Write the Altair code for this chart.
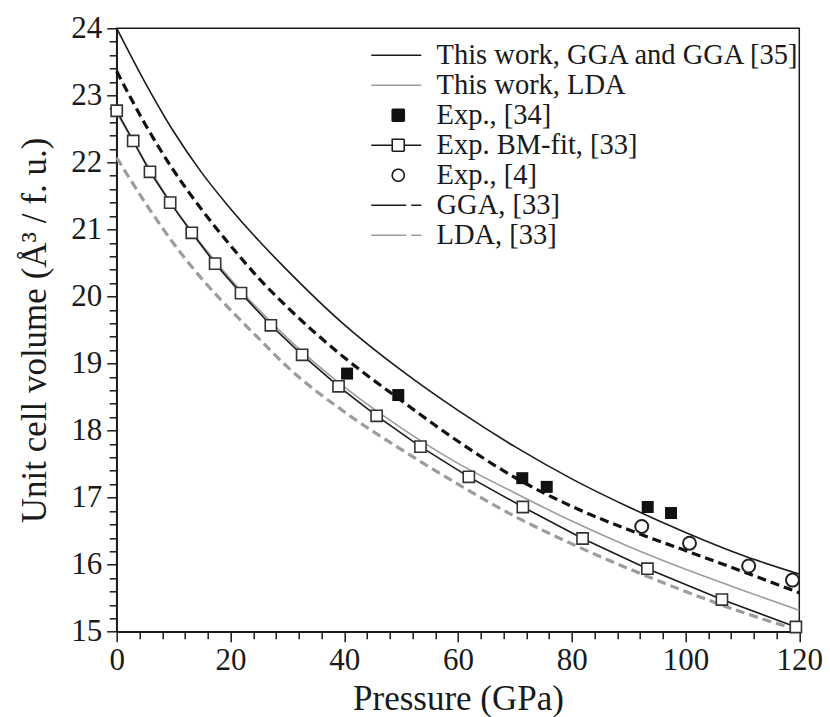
import altair as alt
import pandas as pd
import numpy as np

# ---------------- data ----------------
P_grid = [0, 5, 10, 15, 20, 25, 30, 40, 50, 60, 70, 80, 90, 100, 110, 120]

# This work, GGA (solid black)
V_gga_this = [24.00, 23.19, 22.46, 21.84, 21.31, 20.83, 20.39, 19.58, 18.90, 18.30,
              17.76, 17.28, 16.86, 16.48, 16.14, 15.86]
# This work, LDA (solid gray)
V_lda_this = [22.74, 22.01, 21.34, 20.77, 20.26, 19.80, 19.38, 18.65, 18.04, 17.51,
              17.07, 16.65, 16.27, 15.93, 15.62, 15.32]
# GGA [33] (black dashed)
V_gga_33 = [23.36, 22.57, 21.88, 21.29, 20.76, 20.27, 19.84, 19.09, 18.45, 17.84,
            17.30, 16.87, 16.52, 16.21, 15.90, 15.58]
# LDA [33] (gray dashed)
V_lda_33 = [22.07, 21.40, 20.79, 20.26, 19.80, 19.37, 18.95, 18.28, 17.72, 17.20,
            16.72, 16.31, 15.94, 15.60, 15.29, 15.02]

# Exp. BM-fit [33] (open squares joined by a line)
P_bm = [0, 2.9, 5.85, 9.4, 13.2, 17.3, 21.85, 27.1, 32.6, 39.0, 45.7, 53.4, 61.9,
        71.4, 81.9, 93.3, 106.4, 119.4]
V_bm = [22.77, 22.32, 21.86, 21.40, 20.95, 20.49, 20.05, 19.57, 19.13, 18.66, 18.22,
        17.76, 17.31, 16.86, 16.39, 15.94, 15.48, 15.07]

# Exp. [34] (filled squares)
P_exp34 = [40.5, 49.5, 71.3, 75.6, 93.35, 97.45]
V_exp34 = [18.85, 18.53, 17.29, 17.16, 16.86, 16.77]

# Exp. [4] (open circles)
P_exp4 = [92.3, 100.7, 111.1, 118.8]
V_exp4 = [16.57, 16.32, 15.98, 15.77]

legend_names = ["This work, GGA and GGA [35]", "This work, LDA", "Exp., [34]",
                "Exp. BM-fit, [33]", "Exp., [4]", "GGA, [33]", "LDA, [33]"]

x_ticks = list(range(0, 121, 4))
y_ticks = [round(v, 1) for v in np.arange(15.0, 24.01, 0.2)]

# ---------------- styling ----------------
SERIF = "Liberation Serif"
INK = "#1a1a1a"
GRAY = "#9c9c9c"

xscale = alt.Scale(domain=[0, 120], nice=False, zero=False)
yscale = alt.Scale(domain=[15, 24], nice=False, zero=False)

xaxis = alt.Axis(
    title="Pressure (GPa)", values=x_ticks, grid=False,
    labelExpr="datum.value % 20 == 0 ? datum.label : ''",
    tickSize={"condition": {"test": "datum.value % 20 == 0", "value": 10}, "value": 7},
    labelFlush=False, labelOverlap=False, labelPadding=4,
    labelFont=SERIF, labelFontSize=31, labelColor=INK,
    titleFont=SERIF, titleFontSize=35, titleFontWeight="normal", titleColor=INK,
    titlePadding=6,
    domainColor=INK, domainWidth=1.5, tickColor=INK, tickWidth=1.5,
)
yaxis = alt.Axis(
    title="Unit cell volume (Å³ / f. u.)", values=y_ticks, grid=False,
    labelExpr="abs(datum.value - round(datum.value)) < 0.01 ? format(datum.value, 'd') : ''",
    tickSize={"condition": {"test": "abs(datum.value - round(datum.value)) < 0.01", "value": 10}, "value": 7.5},
    labelFlush=False, labelOverlap=False, labelPadding=5,
    labelFont=SERIF, labelFontSize=31, labelColor=INK,
    titleFont=SERIF, titleFontSize=35, titleFontWeight="normal", titleColor=INK,
    titlePadding=18,
    domainColor=INK, domainWidth=1.5, tickColor=INK, tickWidth=1.5,
)


def curve(P, V, name):
    return pd.DataFrame({"P": P, "V": V, "series": name})


def enc(ch):
    return ch.encode(
        x=alt.X("P:Q", scale=xscale, axis=xaxis),
        y=alt.Y("V:Q", scale=yscale, axis=yaxis),
    )


def line_layer(df, **kw):
    return enc(alt.Chart(df).mark_line(interpolate="monotone", **kw))


l_lda33 = line_layer(curve(P_grid, V_lda_33, "LDA, [33]"), color=GRAY, strokeWidth=3.2, strokeDash=[9, 5])
l_gga33 = line_layer(curve(P_grid, V_gga_33, "GGA, [33]"), color="#111111", strokeWidth=3.2, strokeDash=[9, 5])
l_lda = line_layer(curve(P_grid, V_lda_this, "This work, LDA"), color=GRAY, strokeWidth=1.6)
l_gga = line_layer(curve(P_grid, V_gga_this, "This work, GGA and GGA [35]"), color=INK, strokeWidth=1.6)

bm_df = curve(P_bm, V_bm, "Exp. BM-fit, [33]")
l_bm = enc(alt.Chart(bm_df).mark_line(color=INK, strokeWidth=1.6))
p_bm = enc(alt.Chart(bm_df).mark_point(shape="square", fill="white", stroke="#333333",
                                       strokeWidth=1.6, size=125, opacity=1))
p_34 = enc(alt.Chart(curve(P_exp34, V_exp34, "Exp., [34]")).mark_point(
    shape="square", filled=True, color="#111111", size=144, opacity=1))
p_4 = enc(alt.Chart(curve(P_exp4, V_exp4, "Exp., [4]")).mark_point(
    shape="circle", fill="white", stroke="#222222", strokeWidth=2, size=169, opacity=1))

# ---------------- legend (library legend, built from scales) ----------------
# symbol size 576 -> 12 px per path unit; symbol centre sits 13 px right of legend edge
LINE = "M-3.1667,0H1"
BMSYM = "M-3.1667,0H-1.4167M-0.4167,0H1M-1.4167,-0.5H-0.4167V0.5H-1.4167Z"
FSQ = "M-1.4167,-0.5H-0.4167V0.5H-1.4167Z"
CIRC = "M-1.4167,0A0.5,0.5 0 1,0 -0.4167,0A0.5,0.5 0 1,0 -1.4167,0Z"

leg = alt.Legend(
    title=None, orient="none", legendX=278.3, legendY=12.7, padding=0,
    labelFont=SERIF, labelFontSize=28.5, labelColor=INK, labelLimit=500,
    symbolSize=576, symbolStrokeWidth=1.6, labelOffset=13, rowPadding=1,
)
legend_df = pd.DataFrame({"series": legend_names, "P": 0.0, "V": 15.0})
legend_layer = alt.Chart(legend_df).mark_point(opacity=1).encode(
    shape=alt.Shape("series:N", legend=leg, scale=alt.Scale(
        domain=legend_names, range=[LINE, LINE, FSQ, BMSYM, CIRC, LINE, LINE])),
    stroke=alt.Stroke("series:N", legend=leg, scale=alt.Scale(
        domain=legend_names, range=[INK, GRAY, "#111111", INK, INK, INK, GRAY])),
    fill=alt.Fill("series:N", legend=leg, scale=alt.Scale(
        domain=legend_names,
        range=["transparent", "transparent", "#111111", "white", "white", "transparent", "transparent"])),
    strokeDash=alt.StrokeDash("series:N", legend=leg, scale=alt.Scale(
        domain=legend_names,
        range=[[1, 0], [1, 0], [1, 0], [1, 0], [1, 0], [35, 5, 10, 200], [35, 5, 10, 200]])),
).transform_filter("false")

chart = alt.layer(
    l_lda33, l_gga33, l_lda, l_gga, l_bm, p_bm, p_34, p_4, legend_layer
).properties(
    width=682.6, height=603.4,
    autosize=alt.AutoSizeParams(type="none"),
    padding={"left": 116.7, "top": 28.3, "right": 30.7, "bottom": 85.3},
    background="white",
).configure_view(
    stroke=INK, strokeWidth=1.5
)

chart.save("out.html", embed_options={"renderer": "svg", "actions": False})
